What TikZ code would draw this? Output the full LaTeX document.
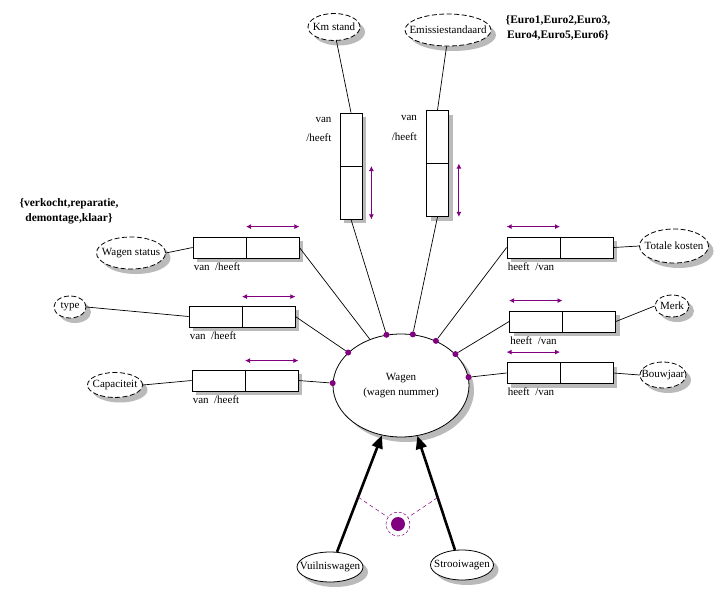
\documentclass[tikz,border=0pt]{standalone}
\usepackage{fontspec}
\setmainfont{Liberation Serif}
\usetikzlibrary{shapes.geometric,arrows.meta,calc}
\definecolor{relpurple}{RGB}{128,0,128}
\begin{document}
\begin{tikzpicture}[x=1pt,y=-1pt,
  every node/.style={font=\fontsize{11}{13}\selectfont},
  attrell/.style={ellipse,draw,dash pattern=on 5pt off 2.5pt,fill=white,line width=0.8pt,inner sep=0pt},
  entell/.style={ellipse,draw,fill=white,line width=0.8pt,inner sep=0pt},
  relbox/.style={rectangle,draw,fill=white,line width=0.8pt,minimum width=106pt,minimum height=21pt,inner sep=0pt},
  vrelbox/.style={relbox,minimum width=22pt,minimum height=106pt},
  conn/.style={line width=0.7pt},
  divline/.style={line width=0.8pt},
  shadowfill/.style={fill=black!27,draw=none},
  pdot/.style={circle,fill=relpurple,inner sep=0pt,minimum size=6pt},
  rarrow/.style={relpurple,line width=0.9pt,{Latex[length=5pt,width=5pt]}-{Latex[length=5pt,width=5pt]}},
  isa/.style={line width=2.6pt,-{Triangle[length=13pt,width=11pt]}},
  gdash/.style={relpurple,line width=0.5pt,dash pattern=on 4pt off 3pt},
  lbl/.style={inner sep=1pt},
  enumtxt/.style={align=center,inner sep=0pt,font=\bfseries\fontsize{11.5}{15}\selectfont}
]
\fill[white] (0,0) rectangle (721,589);
\useasboundingbox (0,0) rectangle (721,589);

% shadows (drawn first, offset right/down)
\foreach \cx/\cy/\rx/\ry in {334/27/26/13.5, 448/30/43/16, 131/253/34.5/16, 70/307/16/11,
    115/385/27.5/12.5, 674/246/34.5/17, 672/306/17/11, 663/375/23/13,
    401/385.5/68/51.5, 330/567/33/15, 462/565/31.5/15}{
  \fill[shadowfill] (\cx+5,\cy+5) ellipse [x radius=\rx, y radius=\ry];
}
\foreach \xa/\ya/\xb/\yb in {193/237/299/258, 189/306/295/327, 192/370/298/391,
    507/237/613/258, 509.5/311/615.5/332, 507/362.5/613/383.5,
    340/113/362/219, 426.5/110.5/448.5/216.5}{
  \fill[shadowfill] (\xa+4,\ya+4) rectangle (\xb+4,\yb+4);
}

% attribute ellipses
\node[attrell,minimum width=52pt,minimum height=27pt,label=center:Km stand] (km) at (334,27) {};
\node[attrell,minimum width=86pt,minimum height=32pt,label=center:Emissiestandaard] (em) at (448,30) {};
\node[attrell,minimum width=69pt,minimum height=32pt,label=center:Wagen status] (ws) at (131,253) {};
\node[attrell,minimum width=32pt,minimum height=22pt,label=center:type] (ty) at (70,307) {};
\node[attrell,minimum width=55pt,minimum height=25pt,label=center:Capaciteit] (cap) at (115,385) {};
\node[attrell,minimum width=69pt,minimum height=34pt,label=center:Totale kosten] (tot) at (674,246) {};
\node[attrell,minimum width=34pt,minimum height=22pt,label=center:Merk] (merk) at (672,306) {};
\node[attrell,minimum width=46pt,minimum height=26pt,label=center:Bouwjaar] (bouw) at (663,375) {};

% entity ellipses
\node[entell,minimum width=136pt,minimum height=103pt,label={[align=center,font=\fontsize{11}{15}\selectfont]center:Wagen\\(wagen nummer)}] (wagen) at (401,385.5) {};
\node[entell,minimum width=66pt,minimum height=30pt,label=center:Vuilniswagen] (vuil) at (330,567) {};
\node[entell,minimum width=63pt,minimum height=30pt,label=center:Strooiwagen] (str) at (462,565) {};

% enumerations
\node[enumtxt] (euro) at (558,28) {\{Euro1,Euro2,Euro3,\\Euro4,Euro5,Euro6\}};
\node[enumtxt] (stat) at (69,211) {\{verkocht,reparatie,\\demontage,klaar\}};

% relation boxes
\node[relbox] (bws) at (246,247.5) {};
\node[relbox] (bty) at (242,316.5) {};
\node[relbox] (bcap) at (245,380.5) {};
\node[relbox] (btot) at (560,247.5) {};
\node[relbox] (bmerk) at (562.5,321.5) {};
\node[relbox] (bbouw) at (560,373) {};
\node[vrelbox] (bkm) at (351,166) {};
\node[vrelbox] (bem) at (437.5,163.5) {};

\foreach \b in {bws,bty,bcap,btot,bmerk,bbouw}{\draw[divline] (\b.north) -- (\b.south);}
\foreach \b in {bkm,bem}{\draw[divline] (\b.west) -- (\b.east);}

% role labels
\node[lbl,anchor=north west] (lws) at ([yshift=-3pt]bws.south west) {van~ /heeft};
\node[lbl,anchor=north west] (lty) at ([yshift=-3pt]bty.south west) {van~ /heeft};
\node[lbl,anchor=north west] (lcap) at ([yshift=-3pt]bcap.south west) {van~ /heeft};
\node[lbl,anchor=north west] (ltot) at ([yshift=-3pt]btot.south west) {heeft~ /van};
\node[lbl,anchor=north west] (lmerk) at ([yshift=-3pt]bmerk.south west) {heeft~ /van};
\node[lbl,anchor=north west] (lbouw) at ([yshift=-3pt]bbouw.south west) {heeft~ /van};
\node[lbl,anchor=east] (lkm1) at ([xshift=-7pt,yshift=-7pt]bkm.north west) {van};
\node[lbl,anchor=east] (lkm2) at ([xshift=-7pt,yshift=-25pt]bkm.north west) {/heeft};
\node[lbl,anchor=east] (lem1) at ([xshift=-8pt,yshift=-8pt]bem.north west) {van};
\node[lbl,anchor=east] (lem2) at ([xshift=-8pt,yshift=-27pt]bem.north west) {/heeft};

% reading direction arrows
\draw[rarrow] ([yshift=10pt]bws.north) -- ([yshift=10pt]bws.north east);
\draw[rarrow] ([yshift=9pt]bty.north) -- ([yshift=9pt]bty.north east);
\draw[rarrow] ([yshift=9pt]bcap.north) -- ([yshift=9pt]bcap.north east);
\draw[rarrow] ([yshift=10pt]btot.north west) -- ([yshift=10pt]btot.north);
\draw[rarrow] ([yshift=10pt]bmerk.north west) -- ([yshift=10pt]bmerk.north);
\draw[rarrow] ([yshift=10pt]bbouw.north west) -- ([yshift=10pt]bbouw.north);
\draw[rarrow] ([xshift=9pt]bkm.east) -- ([xshift=9pt]bkm.south east);
\draw[rarrow] ([xshift=10pt]bem.east) -- ([xshift=10pt]bem.south east);

% dots on Wagen
\node[pdot] (dkm) at (wagen.106.6) {};
\node[pdot] (dem) at (wagen.77.8) {};
\node[pdot] (dtot) at (wagen.52.7) {};
\node[pdot] (dmerk) at (wagen.30.1) {};
\node[pdot] (dbouw) at (wagen.7.5) {};
\node[pdot] (dty) at (wagen.148.6) {};
\node[pdot] (dcap) at (wagen.178) {};
\coordinate (cws) at (wagen.124.1);

% connectors
\draw[conn] (km.-80) -- (bkm.north);
\draw[conn] (em.-95) -- (bem.north);
\draw[conn] (bkm.south) -- (dkm);
\draw[conn] (bem.south) -- (dem);
\draw[conn] (ws.east) -- (bws.west);
\draw[conn] (bws.east) -- (cws);
\draw[conn] (ty.east) -- (bty.west);
\draw[conn] (bty.east) -- (dty);
\draw[conn] (cap.east) -- (bcap.west);
\draw[conn] (bcap.east) -- (dcap);
\draw[conn] (btot.east) -- (tot.west);
\draw[conn] (btot.west) -- (dtot);
\draw[conn] (bmerk.east) -- (merk.west);
\draw[conn] (bmerk.west) -- (dmerk);
\draw[conn] (bbouw.east) -- (bouw.west);
\draw[conn] (bbouw.west) -- (dbouw);

% subtype arrows
\draw[isa] (vuil.65) -- coordinate[pos=0.47] (ga) (wagen.249);
\draw[isa] (str.115) -- coordinate[pos=0.46] (gb) (wagen.288.8);
\node[circle,fill=relpurple,minimum size=14pt,inner sep=0pt] (gen) at (398,524) {};
\node[circle,draw=relpurple,line width=0.5pt,dash pattern=on 3pt off 2pt,minimum size=24pt,inner sep=0pt] (genring) at (398,524) {};
\draw[gdash] (ga) -- (genring);
\draw[gdash] (gb) -- (genring);
\end{tikzpicture}
\end{document}
